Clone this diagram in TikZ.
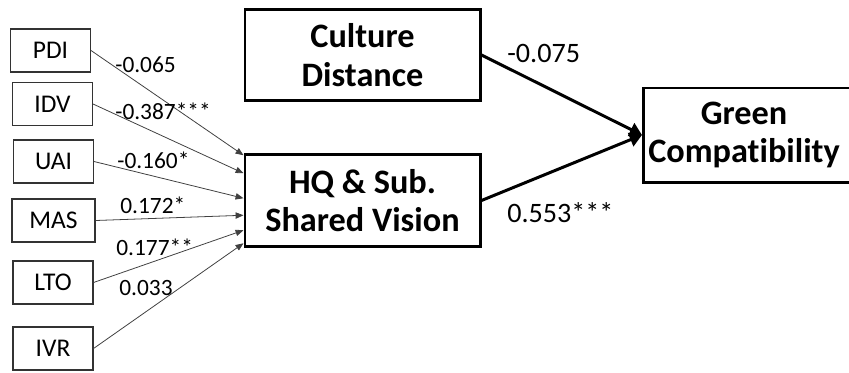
\documentclass[tikz,border=0pt]{standalone}
\usepackage{fontspec}
\setmainfont{Carlito}[Ligatures=NoCommon]
\usetikzlibrary{arrows.meta, positioning, calc}

\begin{document}
\begin{tikzpicture}[
  dim/.style={draw=black!80, line width=0.6pt, minimum width=1.6cm,
    minimum height=0.86cm, inner sep=0pt, font=\fontsize{14.5}{16}\selectfont},
  bigbox/.style={draw, line width=1.7pt, minimum width=4.7cm, minimum height=1.83cm,
    align=center, inner sep=0pt, font=\fontsize{19.5}{22}\selectfont\bfseries},
  coef/.style={anchor=west, inner sep=0pt, font=\fontsize{13.3}{15}\selectfont},
  bigcoef/.style={anchor=west, inner sep=0pt, font=\fontsize{16}{18}\selectfont},
  thinarrow/.style={-{Triangle[length=4.5pt, width=3.6pt]}, draw=black!75, line width=0.45pt},
  bigarrow/.style={-{Triangle[length=7pt, width=8pt]}, line width=1.7pt}]
  \useasboundingbox (0,0) rectangle (16.98,-7.44);
  % cultural dimensions
  \node[dim] (pdi) at (1.01,-1.01) {PDI};
  \node[dim] (idv) at (1.05,-2.08) {IDV};
  \node[dim] (uai) at (1.07,-3.23) {UAI};
  \node[dim, minimum width=1.66cm] (mas) at (1.07,-4.41) {MAS};
  \node[dim] (lto) at (1.06,-5.65) {LTO};
  \node[dim] (ivr) at (1.06,-6.97) {IVR};
  % constructs
  \node[bigbox] (cd) at (7.25,-1.1) {Culture\\Distance};
  \node[bigbox] (hq) at (7.25,-4.01) {HQ \& Sub.\\Shared Vision};
  \node[bigbox, minimum width=4.6cm, minimum height=1.88cm, anchor=west] (gc) at (12.84,-2.7) {};
  \node[font=\fontsize{19.5}{22}\selectfont\bfseries, align=center, inner sep=0pt] (gctext) at (14.88,-2.7) {Green\\Compatibility};
  % paths to shared vision
  \draw[thinarrow] (pdi.east) -- ([yshift=-0.04cm]hq.north west);
  \draw[thinarrow] (idv.east) -- ([yshift=-0.40cm]hq.north west);
  \draw[thinarrow] (uai.east) -- ([yshift=-0.90cm]hq.north west);
  \draw[thinarrow] (mas.east) -- ([yshift=-1.24cm]hq.north west);
  \draw[thinarrow] (lto.east) -- ([yshift=-1.54cm]hq.north west);
  \draw[thinarrow] (ivr.east) -- ([yshift=-1.80cm]hq.north west);
  \node[coef] (c-pdi) at (2.30,-1.30) {-0.065};
  \node[coef] (c-idv) at (2.30,-2.22) {-0.387***};
  \node[coef] (c-uai) at (2.34,-3.20) {-0.160*};
  \node[coef] (c-mas) at (2.40,-4.10) {0.172*};
  \node[coef] (c-lto) at (2.32,-4.94) {0.177**};
  \node[coef] (c-ivr) at (2.38,-5.76) {0.033};
  % paths to green compatibility
  \draw[bigarrow] (cd.east) -- (gc.west);
  \draw[bigarrow] (hq.east) -- (gc.west);
  \node[bigcoef] (c-cd) at (10.14,-1.06) {-0.075};
  \node[bigcoef] (c-hq) at (10.14,-4.26) {0.553***};
\end{tikzpicture}
\end{document}
